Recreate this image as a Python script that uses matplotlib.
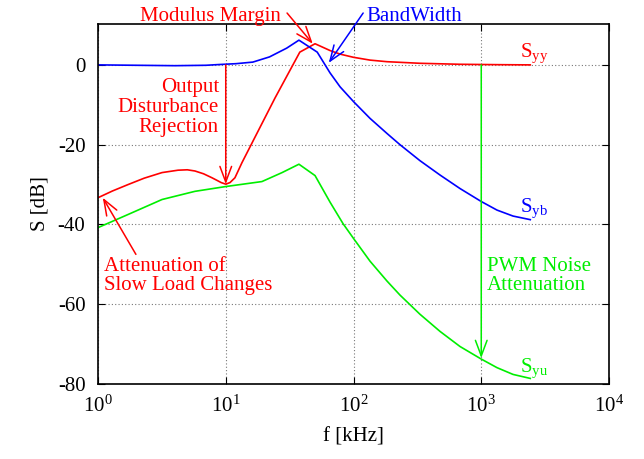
import matplotlib
matplotlib.use("Agg")
import matplotlib.pyplot as plt

plt.rcParams['font.family'] = ['Liberation Serif', 'DejaVu Serif']
plt.rcParams['mathtext.fontset'] = 'custom'
plt.rcParams['mathtext.rm'] = 'Liberation Serif'
plt.rcParams['axes.unicode_minus'] = False

# S_yy (red) - output sensitivity
f_yy = [1, 1.3, 1.72, 2.3, 3.17, 4.23, 5.0, 5.74, 6.7, 7.8, 8.6, 9.2, 10, 10.8, 11.8, 13.4, 24.3, 38, 50, 65.5, 78.5, 100, 134.6, 183, 331, 682, 1400, 2420]
s_yy = [-33.3, -31.6, -30.0, -28.4, -27.0, -26.4, -26.3, -26.6, -27.3, -28.3, -29.0, -29.5, -29.9, -29.5, -28.3, -24.5, -8.3, 3.2, 5.3, 3.6, 2.7, 1.9, 1.2, 0.8, 0.4, 0.15, 0.05, 0.0]

# S_yb (blue)
f_yb = [1, 2, 4, 7, 9, 12, 16.3, 22, 30, 37.4, 52, 65.5, 78.5, 100, 134.6, 183, 231, 331, 475, 682, 1000, 1328, 1774, 2420]
s_yb = [0.0, -0.1, -0.2, -0.1, 0.1, 0.3, 0.7, 2.0, 4.2, 6.2, 3.2, -2.0, -5.5, -9.2, -13.4, -17.2, -20.0, -24.0, -27.6, -31.0, -34.25, -36.4, -37.9, -38.8]

# S_yu (green)
f_yu = [1, 1.72, 3.17, 5.74, 10, 19.2, 27.6, 37.4, 50, 65.5, 82.8, 100, 134.6, 183, 231, 331, 475, 682, 1000, 1328, 1774, 2420]
s_yu = [-40.8, -37.5, -33.75, -31.7, -30.5, -29.25, -27.0, -24.9, -27.75, -34.4, -39.8, -43.5, -49.2, -54.2, -57.7, -62.5, -66.8, -70.6, -73.75, -75.9, -77.6, -78.6]

RED, BLUE, GREEN = '#ff0000', '#0000ff', '#00ee00'
fs = 15

fig = plt.figure(figsize=(6.44, 4.59), dpi=100)
ax = fig.add_axes([98/644, 1-384/459, (609-98)/644, (384-24)/459])

ax.plot(f_yy, s_yy, color=RED, lw=1.2)
ax.plot(f_yb, s_yb, color=BLUE, lw=1.2)
ax.plot(f_yu, s_yu, color=GREEN, lw=1.2)

ax.set_xscale('log')
ax.set_xlim(1, 1e4)
ax.set_ylim(-80, 10.25)
ax.set_yticks([-80, -60, -40, -20, 0])
ax.set_xticks([1, 10, 100, 1000, 10000])
ax.set_xticklabels([r'$\mathregular{10^{%d}}$' % k for k in range(5)])
ax.minorticks_off()
ax.tick_params(direction='in', top=True, right=True, labelsize=fs, length=5, width=0.8)
ax.tick_params(axis='y', pad=9)
ax.tick_params(axis='x', pad=8)
ax.grid(True, color='#777777', linestyle=(0, (1, 2)), lw=0.8)
for s in ax.spines.values():
    s.set_linewidth(1.2)

ax.set_xlabel('f [kHz]', fontsize=fs, labelpad=8)
ax.set_ylabel('S [dB]', fontsize=fs, labelpad=6)

arrow = dict(arrowstyle='->, head_length=0.8, head_width=0.3', lw=1.1,
             shrinkA=0, shrinkB=0, mutation_scale=14)

# Modulus Margin
ax.annotate('', xy=(48, 5.3), xytext=(30.2, 13.0), annotation_clip=False,
            arrowprops=dict(arrow, color=RED))
ax.text(26.8, 11.1, 'Modulus Margin', color=RED, fontsize=fs, ha='right', va='baseline', clip_on=False)

# BandWidth
ax.annotate('', xy=(64, 0.5), xytext=(119, 13.0), annotation_clip=False,
            arrowprops=dict(arrow, color=BLUE))
ax.text(127, 11.1, 'BandWidth', color=BLUE, fontsize=fs, ha='left', va='baseline', clip_on=False)

# Output disturbance rejection
ax.annotate('', xy=(10, -29.9), xytext=(10, 0), arrowprops=dict(arrow, color=RED))
for txt, yb in zip(['Output', 'Disturbance', 'Rejection'], [-6.75, -11.75, -16.75]):
    ax.text(8.85, yb, txt, color=RED, fontsize=fs, ha='right', va='baseline')

# Attenuation of slow load changes
ax.annotate('', xy=(1.09, -33.3), xytext=(1.98, -47.5), arrowprops=dict(arrow, color=RED))
for txt, yb in zip(['Attenuation of', 'Slow Load Changes'], [-51.75, -56.5]):
    ax.text(1.11, yb, txt, color=RED, fontsize=fs, ha='left', va='baseline')

# PWM noise attenuation
ax.annotate('', xy=(1000, -73.5), xytext=(1000, 0), arrowprops=dict(arrow, color=GREEN))
for txt, yb in zip(['PWM Noise', 'Attenuation'], [-51.75, -56.5]):
    ax.text(1103, yb, txt, color=GREEN, fontsize=fs, ha='left', va='baseline')

# curve labels
ax.text(2000, 2.0, r'S$_\mathregular{yy}$', color=RED, fontsize=fs, ha='left', va='baseline')
ax.text(2000, -37.0, r'S$_\mathregular{yb}$', color=BLUE, fontsize=fs, ha='left', va='baseline')
ax.text(2000, -77.0, r'S$_\mathregular{yu}$', color=GREEN, fontsize=fs, ha='left', va='baseline')

fig.savefig('out.png', dpi=100)
